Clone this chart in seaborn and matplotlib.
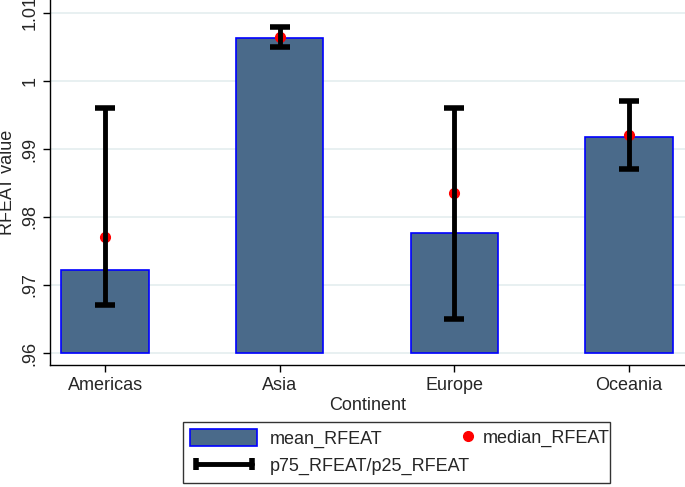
import pandas as pd
import matplotlib.pyplot as plt
import seaborn as sns
from matplotlib.patches import Patch
from matplotlib.lines import Line2D
from matplotlib.legend_handler import HandlerLine2D

# values
continents = ['Americas', 'Asia', 'Europe', 'Oceania']
mean_rfeat = [0.9722, 1.0063, 0.9776, 0.9918]
median_rfeat = [0.9770, 1.0065, 0.9835, 0.9920]
p25_rfeat = [0.967, 1.005, 0.965, 0.987]
p75_rfeat = [0.996, 1.008, 0.996, 0.997]
yticks = [0.96, 0.97, 0.98, 0.99, 1.00, 1.01]
ytick_labels = ['.96', '.97', '.98', '.99', '1', '1.01']
base = 0.96

df = pd.DataFrame({'Continent': continents, 'mean': mean_rfeat,
                   'median': median_rfeat, 'p25': p25_rfeat, 'p75': p75_rfeat})
df['height'] = df['mean'] - base

sns.set_style('white')
plt.rcParams['font.family'] = ['Liberation Sans', 'DejaVu Sans']

fig = plt.figure(figsize=(6.85, 4.87), dpi=100)
ax = fig.add_axes([0.073, 0.25, 0.927, 0.75])

bar_color = '#4a6a8a'
sns.barplot(data=df, x='Continent', y='height', bottom=base, color=bar_color,
            edgecolor='blue', linewidth=1.2, width=0.5, errorbar=None,
            saturation=1, ax=ax, zorder=2)

xs = range(len(df))
ax.plot(xs, df['median'], 'o', color='red', markersize=7, zorder=3)
ax.errorbar(xs, (df['p25'] + df['p75']) / 2, yerr=(df['p75'] - df['p25']) / 2,
            fmt='none', ecolor='black', elinewidth=3.5, capsize=7, capthick=4,
            zorder=4)

ax.set_ylim(0.9582, 1.0119)
ax.set_xlim(-0.315, 3.32)
ax.set_yticks(yticks)
ax.set_yticklabels(ytick_labels, rotation=90, va='center')
ax.grid(axis='y', color='#e4eeef', linewidth=1.2, zorder=0)
ax.set_axisbelow(True)
for s in ['top', 'right']:
    ax.spines[s].set_visible(False)
for s in ['left', 'bottom']:
    ax.spines[s].set_color('black')
    ax.spines[s].set_linewidth(1)
ax.tick_params(axis='both', direction='out', length=5, width=1, color='black',
               labelsize=13, left=True, bottom=True)
ax.set_xlabel('Continent', fontsize=13, labelpad=2)
ax.set_ylabel('RFEAT value', fontsize=13)
ax.yaxis.set_label_coords(-0.053, 0.5)

# legend: framed box with mean and p75/p25 entries, median entry laid on top
h_mean = Patch(facecolor=bar_color, edgecolor='blue', linewidth=1.2)
h_iqr = Line2D([], [], color='black', linewidth=3.5, marker='|',
               markersize=9, markeredgewidth=4)
fig.legend([h_mean, h_iqr], ['mean_RFEAT', 'p75_RFEAT/p25_RFEAT'],
           handler_map={h_iqr: HandlerLine2D(numpoints=2)},
           ncol=1, loc='center', mode='expand',
           bbox_to_anchor=(0.254, 0.004, 0.650, 0.134),
           fontsize=13, handlelength=3.7, handleheight=1.0, frameon=True,
           fancybox=False, edgecolor='#333333', framealpha=1,
           borderpad=0.4, labelspacing=0.5, handletextpad=0.7)

h_med = Line2D([], [], marker='o', color='red', linestyle='none', markersize=7)
fig.legend([h_med], ['median_RFEAT'], loc='center left',
           bbox_to_anchor=(459 / 685, 1 - 438 / 487), frameon=False,
           fontsize=13, handlelength=1.0, handletextpad=0.3,
           borderpad=0, borderaxespad=0)

fig.savefig('out.png', dpi=100)
